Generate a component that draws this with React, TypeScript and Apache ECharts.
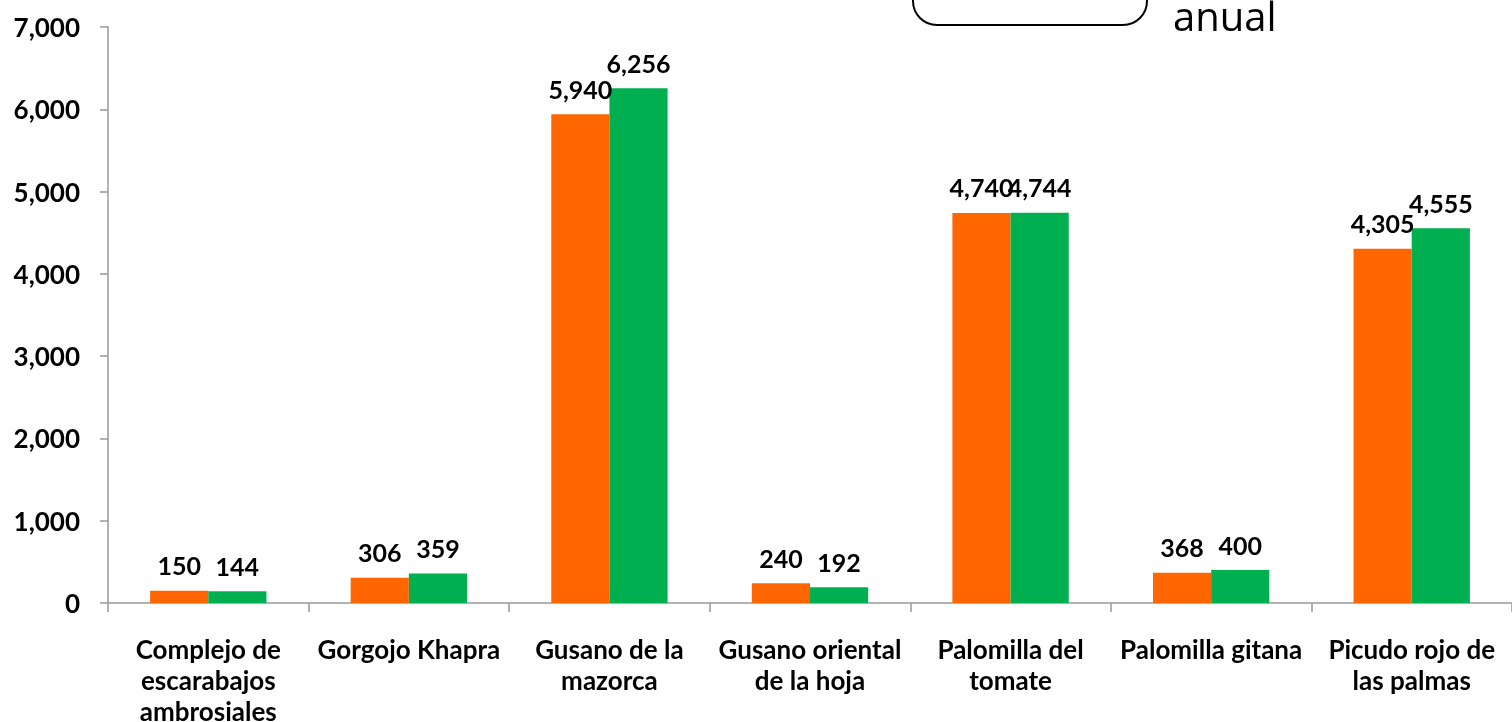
import React, { useEffect, useRef } from "react";
import * as echarts from "echarts";

const categories = [
  "Complejo de\nescarabajos\nambrosiales",
  "Gorgojo Khapra",
  "Gusano de la\nmazorca",
  "Gusano oriental\nde la hoja",
  "Palomilla del\ntomate",
  "Palomilla gitana",
  "Picudo rojo de\nlas palmas",
];
const seriesA = [150, 306, 5940, 240, 4740, 368, 4305];
const seriesB = [144, 359, 6256, 192, 4744, 400, 4555];
const yTicks = { min: 0, max: 7000, interval: 1000 };

const FONT = "Lato, 'Open Sans', sans-serif";

export default function App() {
  const ref = useRef<HTMLDivElement>(null);
  useEffect(() => {
    document.body.style.margin = "0";
    const chart = echarts.init(ref.current!, undefined, { renderer: "svg" });
    const label = {
      show: true,
      position: "top" as const,
      distance: 13,
      color: "#000",
      fontFamily: FONT,
      fontWeight: "bold" as const,
      fontSize: 25,
      formatter: (p: any) => Number(p.value).toLocaleString("en-US"),
    };
    chart.setOption({
      animation: false,
      grid: {
        left: 108,
        right: 0,
        top: 27,
        bottom: 119,
        containLabel: false,
        outerBoundsMode: "none",
      },
      xAxis: {
        type: "category",
        data: categories,
        axisLine: { show: true, lineStyle: { color: "#999", width: 1.5 } },
        axisTick: { show: true, alignWithLabel: false, length: 9, lineStyle: { color: "#999", width: 1.5 } },
        axisLabel: {
          interval: 0,
          margin: 30,
          color: "#000",
          fontFamily: FONT,
          fontWeight: "bold",
          fontSize: 26,
          lineHeight: 31,
        },
      },
      yAxis: {
        type: "value",
        min: yTicks.min,
        max: yTicks.max,
        interval: yTicks.interval,
        splitLine: { show: false },
        axisLine: { show: true, lineStyle: { color: "#999", width: 1.5 } },
        axisTick: { show: true, length: 8, lineStyle: { color: "#999", width: 1.5 } },
        axisLabel: {
          margin: 28,
          color: "#000",
          fontFamily: FONT,
          fontWeight: "bold",
          fontSize: 26,
          formatter: (v: number) => v.toLocaleString("en-US"),
        },
      },
      series: [
        {
          name: "Anterior",
          type: "bar",
          data: seriesA,
          itemStyle: { color: "#FF6600" },
          barGap: "0%",
          barCategoryGap: "42%",
          label,
        },
        {
          name: "Actual",
          type: "bar",
          data: seriesB,
          itemStyle: { color: "#00B050" },
          barGap: "0%",
          barCategoryGap: "42%",
          label,
        },
      ],
      graphic: [
        {
          type: "rect",
          shape: { x: 913, y: -40, width: 234, height: 65, r: 24 },
          style: { fill: "#fff", stroke: "#000", lineWidth: 2 },
        },
        {
          type: "text",
          x: 1173,
          y: -5,
          style: {
            text: "anual",
            fontFamily: "'Open Sans', sans-serif",
            fontSize: 40,
            fill: "#000",
          },
        },
      ],
    });
    return () => chart.dispose();
  }, []);
  return <div ref={ref} style={{ position: "fixed", left: 0, top: 0, width: 1512, height: 722 }} />;
}
